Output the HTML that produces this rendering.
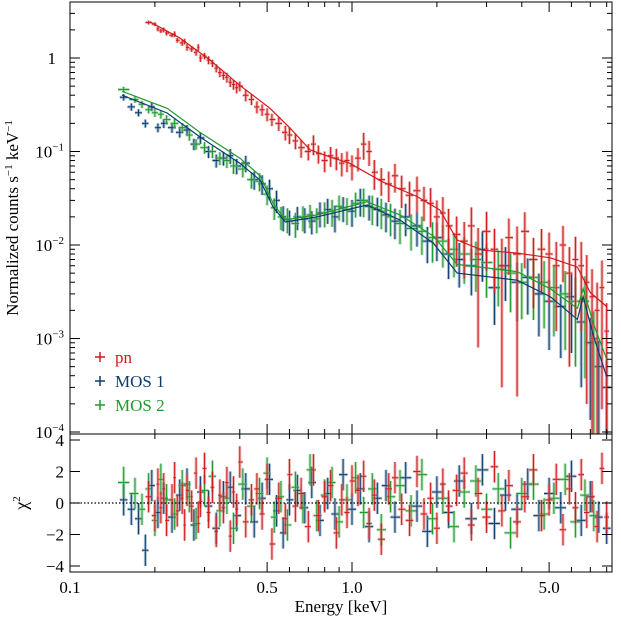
<!DOCTYPE html>
<html><head><meta charset="utf-8"><style>
html,body{margin:0;padding:0;background:#fff;}
svg{display:block;font-family:"Liberation Serif",serif;}
</style></head><body>
<svg id="chart" width="621" height="620" viewBox="0 0 621 620">
<g id="main"></g>
<g id="resid"></g>
<g id="axes"></g>
<text x="18" y="218" font-size="17" text-anchor="middle" transform="rotate(-90 18 218)">Normalized counts s<tspan font-size="11" dy="-6">−1</tspan><tspan dy="6"> keV</tspan><tspan font-size="11" dy="-6">−1</tspan></text>
<text x="22" y="508" font-size="18" text-anchor="middle" transform="rotate(-90 22 503)">χ<tspan font-size="11" dy="-7">2</tspan></text>
<text x="341" y="612" font-size="17" text-anchor="middle">Energy [keV]</text>
<g>
<g><path d="M95 357h10M100 352v10" stroke="#d01a1a" stroke-width="1.5"/><text x="115" y="363" font-size="17" fill="#d01a1a">pn</text></g>
<g><path d="M95 381h10M100 376v10" stroke="#0c3c6c" stroke-width="1.5"/><text x="115" y="387" font-size="17" fill="#0c3c6c">MOS 1</text></g>
<g><path d="M95 405h10M100 400v10" stroke="#1f9a2c" stroke-width="1.5"/><text x="115" y="411" font-size="17" fill="#1f9a2c">MOS 2</text></g>
</g>
</svg>
<script>
// ---- data ----
const pnE=[0.19,0.2,0.205,0.21,0.215,0.22,0.23,0.235,0.24,0.25,0.255,0.26,0.27,0.28,0.285,0.29,0.3,0.31,0.32,0.33,0.34,0.35,0.36,0.37,0.38,0.39,0.40,0.42,0.44,0.46,0.48,0.50,0.52,0.55,0.58,0.6,0.63,0.66,0.7,0.73,0.76,0.8,0.84,0.88,0.92,0.96,1.0,1.05,1.1,1.15,1.2,1.27,1.35,1.42,1.5,1.6,1.7,1.8,1.9,2.0,2.1,2.2,2.35,2.5,2.65,2.8,3.0,3.2,3.4,3.6,3.85,4.1,4.4,4.7,5.0,5.3,5.6,5.9,6.2,6.5,6.8,7.1,7.4,7.7,8.0];
const pnV=[2.4,2.3,2.05,1.95,2.0,1.85,1.75,1.8,1.55,1.45,1.5,1.3,1.25,1.15,1.3,1.0,1.05,0.95,0.88,0.78,0.7,0.65,0.62,0.55,0.52,0.48,0.5,0.4,0.36,0.3,0.28,0.25,0.22,0.2,0.16,0.15,0.13,0.11,0.1,0.12,0.095,0.08,0.09,0.085,0.075,0.08,0.07,0.085,0.12,0.1,0.06,0.05,0.045,0.055,0.04,0.034,0.038,0.03,0.028,0.02,0.022,0.016,0.013,0.011,0.016,0.008,0.014,0.009,0.006,0.012,0.008,0.014,0.007,0.009,0.008,0.006,0.01,0.005,0.007,0.006,0.004,0.0028,0.002,0.0035,0.0012];
const pnErr=[0.05,0.05,0.06,0.05,0.06,0.06,0.05,0.07,0.06,0.07,0.07,0.08,0.07,0.08,0.08,0.09,0.08,0.1,0.09,0.1,0.11,0.1,0.12,0.11,0.12,0.13,0.12,0.14,0.13,0.15,0.14,0.16,0.15,0.17,0.18,0.2,0.19,0.22,0.2,0.24,0.22,0.25,0.24,0.26,0.28,0.25,0.3,0.28,0.32,0.3,0.35,0.33,0.36,0.34,0.38,0.4,0.42,0.4,0.45,0.5,0.48,0.52,0.55,0.6,0.58,0.9,0.62,0.66,0.95,0.6,0.97,0.6,0.7,0.65,0.7,0.8,0.6,0.9,0.75,0.8,0.95,0.97,0.98,0.95,0.99];
const pnRes=[0.4,-0.8,1.2,-0.3,0.9,-1.1,0.2,1.6,-0.5,0.3,-1.4,0.8,-0.2,1.9,-0.9,0.1,2.2,-0.6,1.0,-1.8,0.5,-0.3,1.3,-2.1,0.7,-0.4,2.6,-1.2,0.2,0.9,-0.7,1.5,-2.6,0.3,-1.0,1.8,-0.2,0.6,-1.5,2.1,-0.8,0.4,1.1,-1.9,0.2,-0.6,1.4,0.8,1.7,-1.3,0.5,-2.3,0.9,1.6,-0.4,-1.1,2.0,-0.7,0.3,-1.6,1.2,-0.2,0.8,1.9,-1.4,0.6,-0.9,2.3,-0.5,1.1,-1.2,0.4,2.1,-0.8,0.2,1.5,-1.7,0.9,-0.3,1.8,-0.6,0.4,-1.5,2.2,-0.9];
const m1E=[0.155,0.165,0.175,0.185,0.195,0.205,0.215,0.23,0.245,0.26,0.275,0.29,0.31,0.33,0.35,0.37,0.39,0.42,0.45,0.48,0.51,0.54,0.57,0.6,0.64,0.68,0.72,0.77,0.82,0.87,0.93,1.0,1.07,1.15,1.23,1.32,1.42,1.55,1.7,1.85,2.0,2.2,2.4,2.65,2.9,3.2,3.5,3.85,4.2,4.6,5.0,5.5,6.0,6.5,7.0,7.5,8.0];
const m1V=[0.38,0.3,0.26,0.2,0.3,0.18,0.2,0.18,0.16,0.17,0.12,0.14,0.1,0.08,0.085,0.09,0.07,0.075,0.05,0.045,0.04,0.03,0.02,0.018,0.02,0.019,0.018,0.022,0.024,0.02,0.025,0.023,0.03,0.026,0.024,0.021,0.018,0.02,0.016,0.011,0.012,0.008,0.007,0.006,0.009,0.0035,0.006,0.004,0.0045,0.003,0.0025,0.0022,0.0028,0.0015,0.0009,0.0005,0.0003];
const m1Err=[0.08,0.09,0.09,0.1,0.1,0.11,0.11,0.12,0.12,0.13,0.14,0.14,0.15,0.16,0.17,0.18,0.19,0.2,0.22,0.24,0.25,0.27,0.3,0.3,0.28,0.3,0.28,0.3,0.3,0.32,0.3,0.32,0.33,0.3,0.34,0.35,0.36,0.38,0.4,0.42,0.44,0.46,0.5,0.52,0.55,0.6,0.58,0.62,0.6,0.65,0.7,0.72,0.75,0.8,0.85,0.9,0.95];
const m1Res=[0.2,-0.4,-1.0,-3.0,1.1,-0.6,0.3,-0.9,0.5,1.2,-1.4,0.7,-0.2,-1.6,0.4,1.0,-0.8,0.9,-1.2,0.3,1.5,-0.5,-1.9,0.2,0.8,-0.3,1.3,-1.1,0.6,-0.7,1.8,-0.4,0.9,-1.5,0.3,1.1,-0.9,1.6,-0.2,-1.8,0.7,-0.6,1.4,-1.0,2.1,-1.3,0.5,-0.4,1.2,-0.8,0.6,-0.3,1.7,-1.1,0.4,-0.9,-1.6];
const m2E=[0.155,0.17,0.18,0.19,0.2,0.21,0.22,0.235,0.25,0.265,0.28,0.3,0.32,0.34,0.36,0.38,0.41,0.44,0.47,0.5,0.53,0.56,0.59,0.63,0.67,0.71,0.75,0.8,0.85,0.9,0.96,1.03,1.1,1.18,1.27,1.37,1.48,1.62,1.77,1.93,2.1,2.3,2.5,2.75,3.0,3.3,3.65,4.0,4.4,4.8,5.2,5.7,6.2,6.7,7.2];
const m2V=[0.46,0.36,0.32,0.28,0.26,0.25,0.22,0.2,0.18,0.15,0.12,0.11,0.1,0.085,0.08,0.07,0.065,0.05,0.048,0.035,0.025,0.02,0.019,0.017,0.02,0.021,0.019,0.022,0.023,0.026,0.024,0.028,0.03,0.025,0.023,0.02,0.017,0.015,0.014,0.012,0.011,0.009,0.008,0.007,0.0065,0.0055,0.005,0.004,0.0045,0.004,0.0035,0.003,0.0025,0.0025,0.001];
const m2Err=[0.07,0.08,0.09,0.09,0.1,0.1,0.11,0.11,0.12,0.13,0.13,0.14,0.15,0.16,0.17,0.18,0.19,0.2,0.22,0.24,0.26,0.28,0.3,0.3,0.3,0.28,0.3,0.3,0.32,0.3,0.32,0.3,0.34,0.35,0.36,0.38,0.4,0.42,0.44,0.46,0.48,0.5,0.52,0.55,0.58,0.6,0.62,0.6,0.65,0.68,0.7,0.75,0.8,0.85,0.95];
const m2Res=[1.3,0.6,-0.4,0.9,-1.1,1.5,0.2,-0.7,1.1,0.4,-1.3,0.8,1.7,-0.5,0.3,-1.6,1.2,-0.2,0.6,1.9,-0.9,0.4,-1.4,1.0,-0.3,2.1,-0.8,0.5,1.3,-1.2,0.2,1.6,-0.6,0.9,-1.7,0.4,1.1,-0.5,1.8,-1.0,0.3,-1.5,0.7,1.4,-0.4,0.9,-1.9,0.6,1.2,-0.7,0.3,1.5,-1.2,0.5,-0.8];
const pnModE=[0.192,0.245,0.314,0.40,0.512,0.603,0.71,0.84,0.98,1.29,1.70,2.05,2.36,2.90,3.85,5.05,6.3,7.0,8.0];
const pnModV=[2.43,1.64,0.95,0.51,0.29,0.178,0.104,0.087,0.075,0.047,0.033,0.0237,0.0113,0.0088,0.0082,0.0073,0.0058,0.0031,0.0022];
const m1ModE=[0.153,0.221,0.289,0.40,0.472,0.525,0.58,0.75,1.13,1.48,1.94,2.36,3.85,5.05,6.3,6.6,7.2,8.0];
const m1ModV=[0.40,0.258,0.143,0.075,0.0495,0.0255,0.0176,0.020,0.0268,0.0185,0.0105,0.005,0.0042,0.0028,0.0016,0.0028,0.00104,0.00039];
const m2ModE=[0.153,0.221,0.289,0.40,0.472,0.525,0.58,0.75,1.13,1.48,1.94,2.36,3.85,5.05,6.3,6.6,7.2,8.0];
const m2ModV=[0.44,0.29,0.16,0.085,0.055,0.028,0.0185,0.021,0.029,0.021,0.0125,0.0062,0.0052,0.0034,0.0021,0.0034,0.0014,0.0006];
const xTickVals=[0.1,0.5,1.0,5.0];
const xTickLabels=["0.1","0.5","1.0","5.0"];
const yDecades=[0,-1,-2,-3,-4];
const resTicks=[4,2,0,-2,-4];

// ---- scales ----
const X0=70,X1=612,PT=2,PB=434,RB=572;
const xs=e=>70+282*Math.log10(e/0.1);
const ys=v=>58-93.5*Math.log10(v);
const rs=c=>503-15.75*c;
const NS="http://www.w3.org/2000/svg";
function mk(tag,attrs,parent){const el=document.createElementNS(NS,tag);for(const k in attrs)el.setAttribute(k,attrs[k]);parent.appendChild(el);return el;}
const main=document.getElementById('main'),resid=document.getElementById('resid'),axes=document.getElementById('axes');
const clipDefs=mk('defs',{},document.getElementById('chart'));
const c1=mk('clipPath',{id:'c1'},clipDefs);mk('rect',{x:X0,y:PT,width:X1-X0,height:PB-PT},c1);
const c2=mk('clipPath',{id:'c2'},clipDefs);mk('rect',{x:X0,y:PB,width:X1-X0,height:RB-PB},c2);
main.setAttribute('clip-path','url(#c1)');resid.setAttribute('clip-path','url(#c2)');

function halfw(E,i){const a=i>0?E[i-1]:E[i]*E[i]/E[i+1];const b=i<E.length-1?E[i+1]:E[i]*E[i]/E[i-1];return [Math.sqrt(a*E[i]),Math.sqrt(b*E[i])];}
function series(E,V,Err,Res,col,light,name){
  const g=mk('g',{},main);
  
  
  const gr=mk('g',{},resid);
  
  
  for(let i=0;i<E.length;i++){
    const [lo,hi]=halfw(E,i);const x=xs(E[i]),xl=xs(lo),xh=xs(hi);
    const y=ys(V[i]);const yt=ys(V[i]*(1+Err[i]));const lowV=V[i]*(1-Err[i]);const yb=lowV>0?ys(lowV):PB+5;
    mk('path',{d:`M${x} ${yt}V${yb}M${xl} ${y}H${xh}`,stroke:light,'stroke-width':3,'stroke-opacity':0.55,fill:'none'},g);
    const p=mk('path',{d:`M${x} ${yt}V${yb}M${xl} ${y}H${xh}`,stroke:col,'stroke-width':1,fill:'none'},g);
    
    
    const r=rs(Res[i]);
    mk('path',{d:`M${x} ${rs(Res[i]+1)}V${rs(Res[i]-1)}M${xl} ${r}H${xh}`,stroke:light,'stroke-width':3,'stroke-opacity':0.5,fill:'none'},gr);
    const q=mk('path',{d:`M${x} ${rs(Res[i]+1)}V${rs(Res[i]-1)}M${xl} ${r}H${xh}`,stroke:col,'stroke-width':1,fill:'none'},gr);
    
    
  }
}
function model(E,V,col,name){
  const p=mk('path',{d:E.map((e,i)=>(i?'L':'M')+xs(e).toFixed(1)+' '+ys(V[i]).toFixed(1)).join(''),stroke:col,'stroke-width':1.2,fill:'none'},main);
  
  
}
series(m1E,m1V,m1Err,m1Res,'#0c3c6c','#5a7fa6','mos1');
series(m2E,m2V,m2Err,m2Res,'#1f9a2c','#6cc078','mos2');
series(pnE,pnV,pnErr,pnRes,'#d01a1a','#e06a6a','pn');
model(m1ModE,m1ModV,'#0c3c6c','mos1');
model(m2ModE,m2ModV,'#1f9a2c','mos2');
model(pnModE,pnModV,'#d01a1a','pn');
const zl=mk('line',{x1:X0,x2:X1,y1:rs(0),y2:rs(0),stroke:'#000','stroke-dasharray':'1.5,2','stroke-width':1.2},resid);


// ---- axes ----
mk('rect',{x:X0,y:PT,width:X1-X0,height:RB-PT,fill:'none',stroke:'#000','stroke-width':1},axes);
mk('line',{x1:X0,x2:X1,y1:PB,y2:PB,stroke:'#000'},axes);
const minor=[0.2,0.3,0.4,0.6,0.7,0.8,0.9,2,3,4,6,7,8];
minor.forEach(e=>{const x=xs(e);[PT,PB,RB].forEach((yy,k)=>{const d=k==0?1:-1;mk('line',{x1:x,x2:x,y1:yy,y2:yy+d*5,stroke:'#000'},axes);if(k==1)mk('line',{x1:x,x2:x,y1:yy,y2:yy+5,stroke:'#000'},axes);});});
xTickVals.forEach((e,i)=>{const x=xs(e);[PT,PB,RB].forEach((yy,k)=>{const d=k==0?1:-1;mk('line',{x1:x,x2:x,y1:yy,y2:yy+d*10,stroke:'#000'},axes);if(k==1)mk('line',{x1:x,x2:x,y1:yy,y2:yy+10,stroke:'#000'},axes);});
  const t=mk('text',{x:x,y:593,'font-size':17,'text-anchor':'middle'},axes);t.textContent=xTickLabels[i];
  });
yDecades.forEach(d=>{const y=ys(Math.pow(10,d));
  mk('line',{x1:X0,x2:X0+10,y1:y,y2:y,stroke:'#000'},axes);mk('line',{x1:X1,x2:X1-10,y1:y,y2:y,stroke:'#000'},axes);
  for(let m=2;m<=9;m++){const yy=ys(m*Math.pow(10,d));if(yy>PT&&yy<PB){mk('line',{x1:X0,x2:X0+5,y1:yy,y2:yy,stroke:'#000'},axes);mk('line',{x1:X1,x2:X1-5,y1:yy,y2:yy,stroke:'#000'},axes);}}
  const t=mk('text',{x:d==0?56:64,y:y+6,'font-size':17,'text-anchor':'end'},axes);
  
  if(d==0)t.textContent='1';else{t.textContent='10';const s=mk('tspan',{'font-size':11,dy:-7},t);s.textContent='−'+(-d);}
});
resTicks.forEach(c=>{const y=rs(c);mk('line',{x1:X0,x2:X0+10,y1:y,y2:y,stroke:'#000'},axes);mk('line',{x1:X1,x2:X1-10,y1:y,y2:y,stroke:'#000'},axes);
  const t=mk('text',{x:64,y:y+6,'font-size':17,'text-anchor':'end'},axes);t.textContent=c<0?'−'+(-c):String(c);
  });
</script>
</body></html>
